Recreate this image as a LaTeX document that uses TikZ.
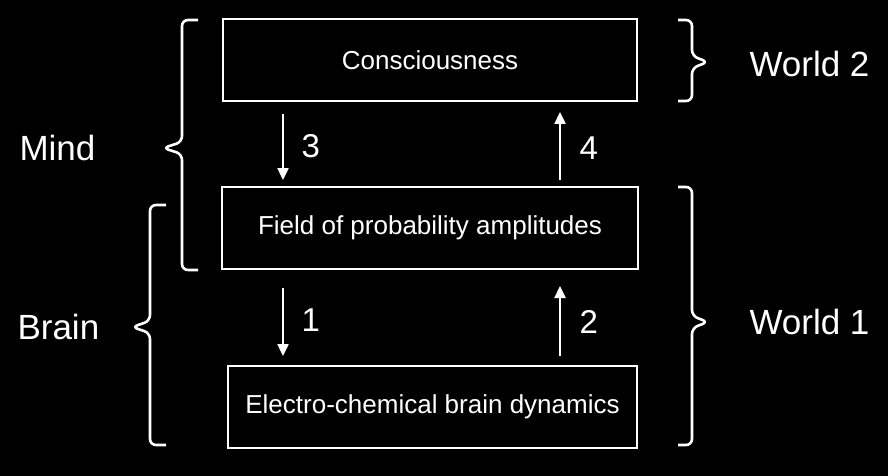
\documentclass[tikz,border=0pt]{standalone}
\usepackage{fontspec}
\setmainfont{Liberation Sans}
\usetikzlibrary{arrows.meta}
\begin{document}
\begin{tikzpicture}[x=1pt,y=-1pt,
  box/.style={draw=white,line width=2.2pt,minimum width=#1,minimum height=82pt,inner sep=0pt,font=\fontsize{26}{30}\selectfont,text=white},
  br/.style={draw=white,line width=2.6pt,rounded corners=6pt},
  lab/.style={text=white,font=\fontsize{35}{40}\selectfont},
  num/.style={text=white,font=\fontsize{33}{38}\selectfont},
  ar/.style={draw=white,line width=2.4pt,-{Triangle[length=12pt,width=11pt]}}]
\fill[black] (0,0) rectangle (888,476);
\useasboundingbox (0,0) rectangle (888,476);
\node[box=414pt] (c) at (430,60) {Consciousness};
\node[box=416pt] (f) at (430,228) {Field of probability amplitudes};
\node[box=409pt] (e) at (432.5,407) {Electro-chemical brain dynamics};
\coordinate (a3s) at (283,114); \coordinate (a3e) at (283,180);
\coordinate (a4s) at (560,180); \coordinate (a4e) at (560,112);
\coordinate (a1s) at (283,288); \coordinate (a1e) at (283,356);
\coordinate (a2s) at (560,356); \coordinate (a2e) at (560,286);
\draw[ar] (a3s) -- (a3e); \draw[ar] (a4s) -- (a4e);
\draw[ar] (a1s) -- (a1e); \draw[ar] (a2s) -- (a2e);
\node[num,anchor=west] (n3) at (298,146) {3};
\node[num,anchor=west] (n4) at (576,148) {4};
\node[num,anchor=west] (n1) at (298,320) {1};
\node[num,anchor=west] (n2) at (576,322) {2};
% braces
\draw[br] (198,20) -- (182,20) -- (182,142) -- (163,148) -- (182,154) -- (182,270) -- (198,270);
\draw[br] (166,205) -- (150,205) -- (150,321) -- (132,327) -- (150,333) -- (150,445) -- (166,445);
\draw[br] (678,20) -- (692,20) -- (692,56) -- (708,62) -- (692,68) -- (692,101) -- (678,101);
\draw[br] (678,187) -- (692,187) -- (692,316) -- (708,322) -- (692,328) -- (692,445) -- (678,445);
\node[lab,anchor=west] (mind) at (16,148) {Mind};
\node[lab,anchor=west] (brain) at (14,327) {Brain};
\node[lab,anchor=west] (w2) at (746,64) {World 2};
\node[lab,anchor=west] (w1) at (746,322) {World 1};
\end{tikzpicture}
\end{document}
